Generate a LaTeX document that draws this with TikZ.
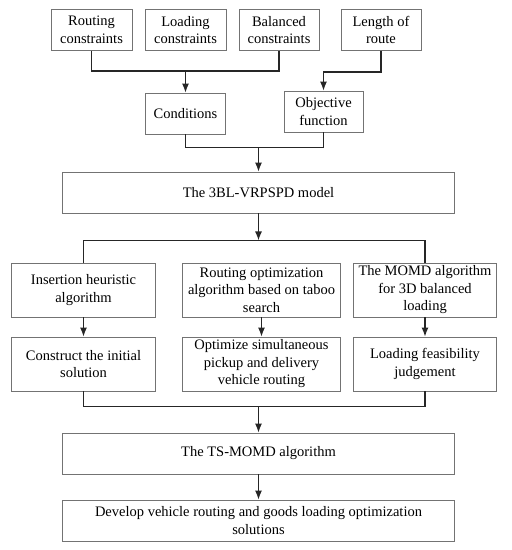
\documentclass[tikz,border=0pt]{standalone}
\usepackage{fontspec}
\setmainfont{Liberation Serif}
\usetikzlibrary{positioning,arrows.meta}
\tikzset{box/.style={rectangle,draw=black!55,line width=0.9pt,align=center,inner sep=0pt,
    font=\fontsize{14.5}{17.5}\selectfont,minimum height=41pt},
  line/.style={draw=black!85,line width=1.2pt},
  arrow/.style={line,-{Latex[length=9pt,width=7pt]}} }

\begin{document}
\begin{tikzpicture}
\useasboundingbox (0,0) rectangle (512pt,-550pt);
\begin{scope}[on grid]

  \node[box,minimum width=81pt] (rc) at (91.5pt,-30pt) {Routing\\constraints};
  \node[box,minimum width=81pt] (lc) [right=94pt of rc] {Loading\\constraints};
  \node[box,minimum width=80pt] (bc) [right=93.5pt of lc] {Balanced\\constraints};
  \node[box,minimum width=80pt] (lr) [right=102pt of bc] {Length of\\route};
  \node[box,minimum width=80pt] (cond) [below=83.5pt of lc] {Conditions};
  \node[box,minimum width=79pt] (obj) [below left=81.5pt and 57.5pt of lr] {Objective\\function};
  \node[box,minimum width=392pt] (model) [below right=79pt and 73pt of cond] {The 3BL-VRPSPD model};

  \node[box,minimum width=144pt,minimum height=54pt] (ins) [below left=97.5pt and 175pt of model] {Insertion heuristic\\algorithm};
  \node[box,minimum width=158pt,minimum height=54pt] (rot) [right=178pt of ins] {Routing optimization\\algorithm based on taboo\\search};
  \node[box,minimum width=143pt,minimum height=54pt] (mom) [right=163.5pt of rot] {The MOMD algorithm\\for 3D balanced\\loading};
  \node[box,minimum width=144pt,minimum height=54pt] (cons) [below=74pt of ins] {Construct the initial\\solution};
  \node[box,minimum width=158pt,minimum height=54pt] (opt) [below=74pt of rot] {Optimize simultaneous\\pickup and delivery\\vehicle routing};
  \node[box,minimum width=143pt,minimum height=54pt] (feas) [below=74pt of mom] {Loading feasibility\\judgement};

  \node[box,minimum width=392pt] (ts) [below=261pt of model] {The TS-MOMD algorithm};
  \node[box,minimum width=392pt] (dev) [below=67pt of ts] {Develop vehicle routing and goods loading optimization\\solutions};

  % constraints -> conditions / objective
  \draw[line] (rc.south) -- ++(0,-20pt) coordinate (j1) -| (bc.south);
  \draw[arrow] (lc.south |- j1) -- (cond.north);
  \draw[arrow] (lr.south) -- ++(0,-21pt) -| (obj.north);

  % conditions + objective -> model
  \draw[line] (cond.south) -- ++(0,-13pt) coordinate (j2) -| (obj.south);
  \draw[arrow] (model.north |- j2) -- (model.north);

  % model -> algorithms
  \draw[arrow] (model.south) -- ++(0,-27pt) coordinate (j3);
  \draw[line] (ins.north) |- (j3) -| (mom.north);
  \draw[arrow] (ins.south) -- (cons.north);
  \draw[arrow] (rot.south) -- (opt.north);
  \draw[arrow] (mom.south) -- (feas.north);

  % results -> TS-MOMD -> solutions
  \draw[line] (cons.south) -- ++(0,-15pt) coordinate (j4) -| (feas.south);
  \draw[arrow] (ts.north |- j4) -- (ts.north);
  \draw[arrow] (ts.south) -- (dev.north);
\end{scope}
\end{tikzpicture}
\end{document}
